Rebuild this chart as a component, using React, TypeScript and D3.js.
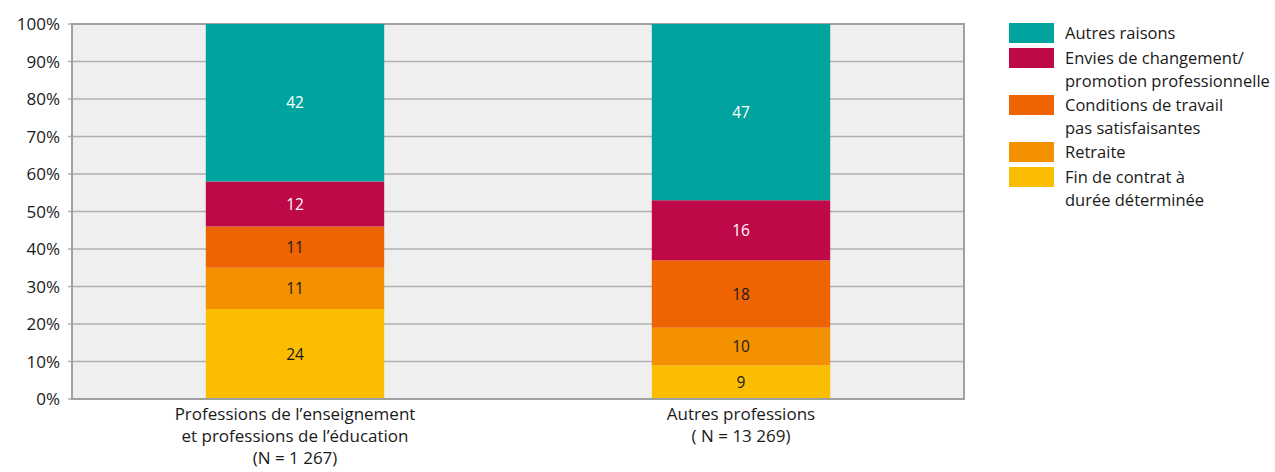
import React from "react";
import * as d3 from "d3";

const categories = ["Professions de l’enseignement|et professions de l’éducation|(N = 1 267)", "Autres professions|( N = 13 269)"];
const seriesNames = [
  "Fin de contrat à|durée déterminée",
  "Retraite",
  "Conditions de travail|pas satisfaisantes",
  "Envies de changement/|promotion professionnelle",
  "Autres raisons",
];
const finContrat = [24, 9];
const retraite = [11, 10];
const conditions = [11, 18];
const envies = [12, 16];
const autres = [42, 47];
const seriesColors = ["#fbbd00", "#f39100", "#ee6402", "#be0848", "#00a39d"];
const labelColors = ["#1a1a1a", "#1a1a1a", "#1a1a1a", "#ffffff", "#ffffff"];
const yTicks = [0, 10, 20, 30, 40, 50, 60, 70, 80, 90, 100];

const FONT = "'Open Sans', 'Noto Sans', sans-serif";

export default function App() {
  const W = 1275, H = 472;
  const left = 72, right = 964, top = 24, bottom = 399;
  const series = [finContrat, retraite, conditions, envies, autres];
  const x = d3.scaleBand<number>().domain([0, 1]).range([left, right]).padding(0);
  const y = d3.scaleLinear().domain([0, 100]).range([bottom, top]);
  const barW = x.bandwidth() * 0.4;

  const rows = categories.map((_, i) => {
    const o: any = { idx: i };
    series.forEach((s, k) => (o["s" + k] = s[i]));
    return o;
  });
  const stack = d3.stack<any>().keys(series.map((_, k) => "s" + k))(rows);

  const legendOrder = [4, 3, 2, 1, 0];
  const legendY = [23, 48, 95, 142, 167];

  return (
    <svg width={W} height={H} style={{ display: "block", position: "absolute", left: 0, top: 0 }} fontFamily={FONT}>
      <rect x={left} y={top} width={right - left} height={bottom - top} fill="#efefef" />
      {yTicks.map((t) => (
        <g key={t}>
          <line x1={left - 4} x2={right} y1={y(t)} y2={y(t)} stroke="#b0b0b0" strokeWidth={1.5} />
          <text x={60} y={y(t) + 6} textAnchor="end" fontSize={17} fill="#1a1a1a">
            {t}%
          </text>
        </g>
      ))}
      <rect x={left} y={top} width={right - left} height={bottom - top} fill="none" stroke="#a0a0a0" strokeWidth={2} />
      {stack.map((layer, k) =>
        layer.map((d, i) => {
          const cx = (x(i) as number) + x.bandwidth() / 2;
          const y0 = y(d[0]);
          const y1 = y(d[1]);
          return (
            <g key={k + "-" + i}>
              <rect x={cx - barW / 2} y={y1} width={barW} height={y0 - y1} fill={seriesColors[k]} />
              <text x={cx} y={(y0 + y1) / 2 + 5.5} textAnchor="middle" fontSize={15.5} fill={labelColors[k]}>
                {series[k][i]}
              </text>
            </g>
          );
        })
      )}
      <line x1={left} x2={right} y1={bottom} y2={bottom} stroke="#a0a0a0" strokeWidth={2} />
      {categories.map((c, i) => {
        const cx = (x(i) as number) + x.bandwidth() / 2;
        return (
          <text key={i} textAnchor="middle" fontSize={17} fill="#1a1a1a">
            {c.split("|").map((ln, j) => (
              <tspan key={j} x={cx} y={420 + j * 22}>
                {ln}
              </tspan>
            ))}
          </text>
        );
      })}
      {legendOrder.map((k, j) => (
        <g key={k}>
          <rect x={1009} y={legendY[j]} width={45} height={20} fill={seriesColors[k]} />
          <text fontSize={16.5} fill="#1a1a1a">
            {seriesNames[k].split("|").map((ln, m) => (
              <tspan key={m} x={1065} y={legendY[j] + 16 + m * 23}>
                {ln}
              </tspan>
            ))}
          </text>
        </g>
      ))}
    </svg>
  );
}
